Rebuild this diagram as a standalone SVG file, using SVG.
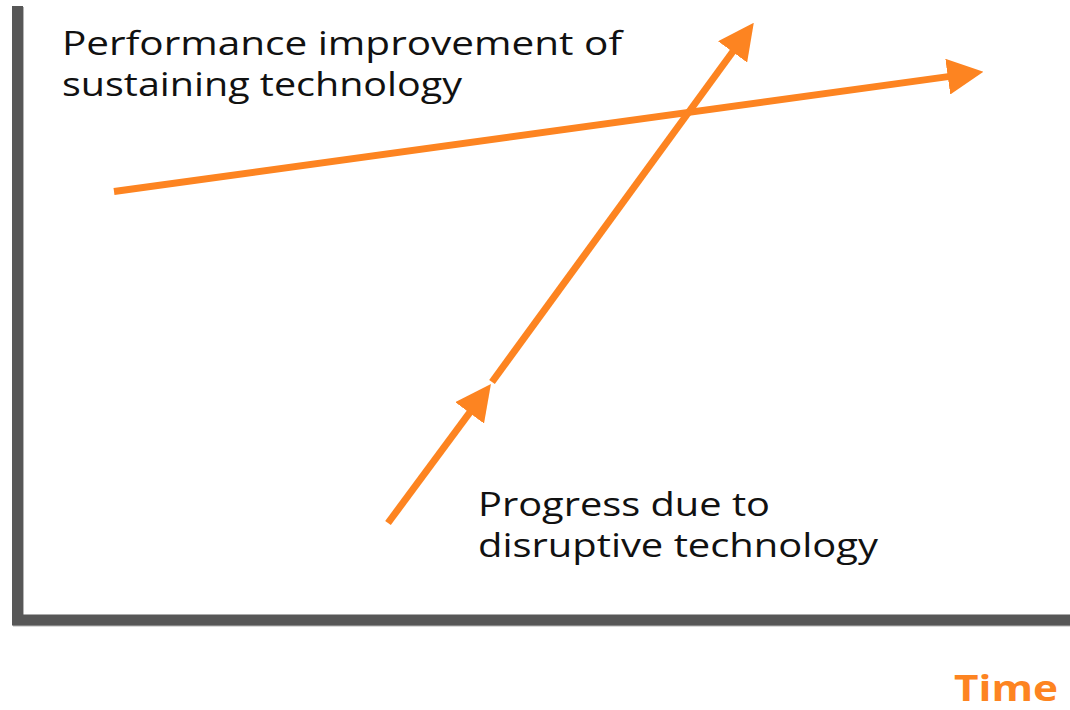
<svg xmlns="http://www.w3.org/2000/svg" width="1070" height="710" viewBox="0 0 1070 710">
<style>
.axis{fill:none;stroke:#575757;stroke-width:11;stroke-linejoin:miter}
.shadow{fill:none;stroke:#b5b5b5;stroke-width:11}
.arrow{fill:none;stroke:#fd8421;stroke-width:7;stroke-linecap:butt}
.lbl{font-family:"Open Sans","Liberation Sans",sans-serif;font-size:32px;fill:#111}
.time{font-family:"Open Sans","Liberation Sans",sans-serif;font-size:36px;font-weight:bold;fill:#fd8421}
</style>
<defs>
<marker id="head" markerUnits="userSpaceOnUse" markerWidth="36" markerHeight="36" viewBox="0 0 34 34" refX="9" refY="17" orient="auto">
<path d="M0,0 L34,17 L0,34 z" fill="#fd8421"/>
</marker>
</defs>
<g id="axes">
<path class="shadow" d="M18.5 7 V621 H1070"/>
<path class="axis" d="M17.5 6 V620 H1070"/>
</g>
<g id="connectors">
<line class="arrow" x1="114" y1="191.5" x2="957.2" y2="75.4" marker-end="url(#head)"/>
<line class="arrow" x1="388" y1="523" x2="475.2" y2="405.2" marker-end="url(#head)"/>
<line class="arrow" x1="492" y1="382" x2="738.2" y2="44.2" marker-end="url(#head)"/>
</g>
<g id="label-sustaining">
<text class="lbl" x="62" y="55" textLength="560" lengthAdjust="spacingAndGlyphs">Performance improvement of</text>
<text class="lbl" x="62" y="96" textLength="400" lengthAdjust="spacingAndGlyphs">sustaining technology</text>
</g>
<g id="label-disruptive">
<text class="lbl" x="478" y="516" textLength="292" lengthAdjust="spacingAndGlyphs">Progress due to</text>
<text class="lbl" x="478" y="557" textLength="400" lengthAdjust="spacingAndGlyphs">disruptive technology</text>
</g>
<g id="label-time">
<text class="time" x="954" y="701" textLength="104" lengthAdjust="spacingAndGlyphs">Time</text>
</g>
</svg>
